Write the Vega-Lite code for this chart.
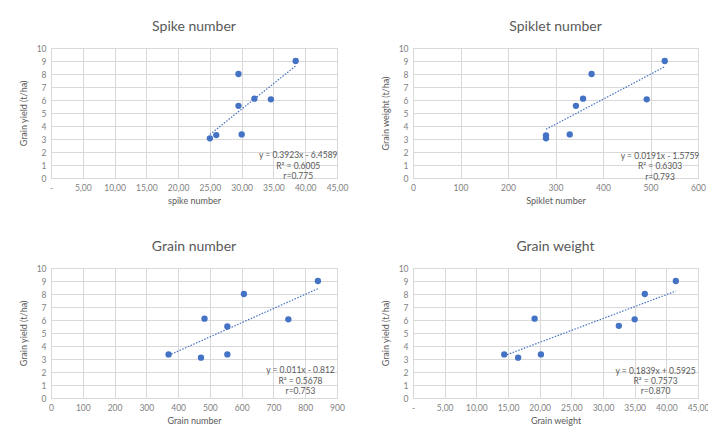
{
  "$schema": "https://vega.github.io/schema/vega-lite/v6.json",
  "background": "white",
  "padding": {"left": 18, "top": 19, "right": 0, "bottom": 0},
  "columns": 2,
  "spacing": {"column": 31, "row": 33},
  "datasets": {
    "spike": [
      {"x": 25.0, "y": 3.05}, {"x": 26.0, "y": 3.3}, {"x": 29.5, "y": 8.0}, {"x": 29.5, "y": 5.55},
      {"x": 30.0, "y": 3.35}, {"x": 32.0, "y": 6.1}, {"x": 34.6, "y": 6.05}, {"x": 38.5, "y": 9.0}
    ],
    "spike_eq": [
      {"x": 38.9, "y": 1.77, "label": "y = 0.3923x - 6.4589"},
      {"x": 38.9, "y": 0.92, "label": "R² = 0.6005"},
      {"x": 38.9, "y": 0.15, "label": "r=0.775"}
    ],
    "spiklet": [
      {"x": 280, "y": 3.05}, {"x": 280, "y": 3.28}, {"x": 330, "y": 3.35}, {"x": 343, "y": 5.55},
      {"x": 358, "y": 6.1}, {"x": 376, "y": 8.0}, {"x": 492, "y": 6.05}, {"x": 530, "y": 9.0}
    ],
    "spiklet_eq": [
      {"x": 520, "y": 1.68, "label": "y = 0.0191x - 1.5759"},
      {"x": 520, "y": 0.9, "label": "R² = 0.6303"},
      {"x": 520, "y": 0.1, "label": "r=0.793"}
    ],
    "grainnum": [
      {"x": 370, "y": 3.35}, {"x": 472, "y": 3.1}, {"x": 483, "y": 6.1}, {"x": 555, "y": 5.5},
      {"x": 555, "y": 3.35}, {"x": 607, "y": 8.0}, {"x": 747, "y": 6.05}, {"x": 840, "y": 9.0}
    ],
    "grainnum_eq": [
      {"x": 785, "y": 2.15, "label": "y = 0.011x - 0.812"},
      {"x": 785, "y": 1.3, "label": "R² = 0.5678"},
      {"x": 785, "y": 0.54, "label": "r=0.753"}
    ],
    "grainwt": [
      {"x": 14.4, "y": 3.35}, {"x": 16.6, "y": 3.1}, {"x": 19.2, "y": 6.1}, {"x": 20.2, "y": 3.35},
      {"x": 32.5, "y": 5.55}, {"x": 35.0, "y": 6.05}, {"x": 36.6, "y": 8.0}, {"x": 41.5, "y": 9.0}
    ],
    "grainwt_eq": [
      {"x": 38.3, "y": 2.05, "label": "y = 0.1839x + 0.5925"},
      {"x": 38.3, "y": 1.29, "label": "R² = 0.7573"},
      {"x": 38.3, "y": 0.53, "label": "r=0.870"}
    ]
  },
  "concat": [
    {
      "title": "Spike number",
      "width": 286, "height": 130,
      "encoding": {
        "x": {"field": "x", "type": "quantitative", "scale": {"domain": [0, 45]},
              "axis": {"title": "spike number", "values": [0,5,10,15,20,25,30,35,40,45],
                       "labelExpr": "datum.value == 0 ? '-' : replace(format(datum.value, '.2f'), '.', ',')"}},
        "y": {"field": "y", "type": "quantitative", "scale": {"domain": [0, 10]},
              "axis": {"title": "Grain yield (t/ha)", "values": [0,1,2,3,4,5,6,7,8,9,10]}}
      },
      "layer": [
        {
          "data": {"name": "spike"},
          "transform": [{"regression": "y", "on": "x"}],
          "mark": {"type": "line", "color": "#4472C4", "strokeDash": [1.5, 1.5], "strokeWidth": 1.2}
        },
        {
          "data": {"name": "spike"},
          "mark": {"type": "circle", "color": "#4472C4", "opacity": 1, "size": 40}
        },
        {
          "data": {"name": "spike_eq"},
          "mark": {"type": "text", "align": "center", "baseline": "middle", "fontSize": 8.5, "color": "#595959", "font": "Lato"},
          "encoding": {"text": {"field": "label"}}
        }
      ]
    },
    {
      "title": "Spiklet number",
      "width": 285, "height": 130,
      "encoding": {
        "x": {"field": "x", "type": "quantitative", "scale": {"domain": [0, 600]},
              "axis": {"title": "Spiklet number", "values": [0,100,200,300,400,500,600]}},
        "y": {"field": "y", "type": "quantitative", "scale": {"domain": [0, 10]},
              "axis": {"title": "Grain weight (t/ha)", "values": [0,1,2,3,4,5,6,7,8,9,10]}}
      },
      "layer": [
        {
          "data": {"name": "spiklet"},
          "transform": [{"regression": "y", "on": "x"}],
          "mark": {"type": "line", "color": "#4472C4", "strokeDash": [1.5, 1.5], "strokeWidth": 1.2}
        },
        {
          "data": {"name": "spiklet"},
          "mark": {"type": "circle", "color": "#4472C4", "opacity": 1, "size": 40}
        },
        {
          "data": {"name": "spiklet_eq"},
          "mark": {"type": "text", "align": "center", "baseline": "middle", "fontSize": 8.5, "color": "#595959", "font": "Lato"},
          "encoding": {"text": {"field": "label"}}
        }
      ]
    },
    {
      "title": "Grain number",
      "width": 286, "height": 130,
      "encoding": {
        "x": {"field": "x", "type": "quantitative", "scale": {"domain": [0, 900]},
              "axis": {"title": "Grain number", "values": [0,100,200,300,400,500,600,700,800,900]}},
        "y": {"field": "y", "type": "quantitative", "scale": {"domain": [0, 10]},
              "axis": {"title": "Grain yield (t/ha)", "values": [0,1,2,3,4,5,6,7,8,9,10]}}
      },
      "layer": [
        {
          "data": {"name": "grainnum"},
          "transform": [{"regression": "y", "on": "x"}],
          "mark": {"type": "line", "color": "#4472C4", "strokeDash": [1.5, 1.5], "strokeWidth": 1.2}
        },
        {
          "data": {"name": "grainnum"},
          "mark": {"type": "circle", "color": "#4472C4", "opacity": 1, "size": 40}
        },
        {
          "data": {"name": "grainnum_eq"},
          "mark": {"type": "text", "align": "center", "baseline": "middle", "fontSize": 8.5, "color": "#595959", "font": "Lato"},
          "encoding": {"text": {"field": "label"}}
        }
      ]
    },
    {
      "title": "Grain weight",
      "width": 285, "height": 130,
      "encoding": {
        "x": {"field": "x", "type": "quantitative", "scale": {"domain": [0, 45]},
              "axis": {"title": "Grain weight", "values": [0,5,10,15,20,25,30,35,40,45],
                       "labelExpr": "datum.value == 0 ? '-' : replace(format(datum.value, '.2f'), '.', ',')"}},
        "y": {"field": "y", "type": "quantitative", "scale": {"domain": [0, 10]},
              "axis": {"title": "Grain yield (t/ha)", "values": [0,1,2,3,4,5,6,7,8,9,10]}}
      },
      "layer": [
        {
          "data": {"name": "grainwt"},
          "transform": [{"regression": "y", "on": "x"}],
          "mark": {"type": "line", "color": "#4472C4", "strokeDash": [1.5, 1.5], "strokeWidth": 1.2}
        },
        {
          "data": {"name": "grainwt"},
          "mark": {"type": "circle", "color": "#4472C4", "opacity": 1, "size": 40}
        },
        {
          "data": {"name": "grainwt_eq"},
          "mark": {"type": "text", "align": "center", "baseline": "middle", "fontSize": 8.5, "color": "#595959", "font": "Lato"},
          "encoding": {"text": {"field": "label"}}
        }
      ]
    }
  ],
  "config": {
    "font": "Lato",
    "view": {"stroke": "#d9d9d9", "strokeWidth": 1},
    "title": {"fontSize": 14, "fontWeight": "normal", "color": "#595959", "font": "Lato", "offset": 10},
    "axis": {
      "labelColor": "#7f7f7f", "labelFontSize": 8.5, "labelFont": "Lato",
      "titleColor": "#595959", "titleFontSize": 9, "titleFontWeight": "normal", "titleFont": "Lato",
      "gridColor": "#d9d9d9", "gridWidth": 1, "ticks": false, "domain": false, "labelPadding": 5,
      "labelOverlap": false
    },
    "axisX": {"titlePadding": 5, "labelFlush": false},
    "axisY": {"titlePadding": 8, "labelFlush": false}
  }
}
